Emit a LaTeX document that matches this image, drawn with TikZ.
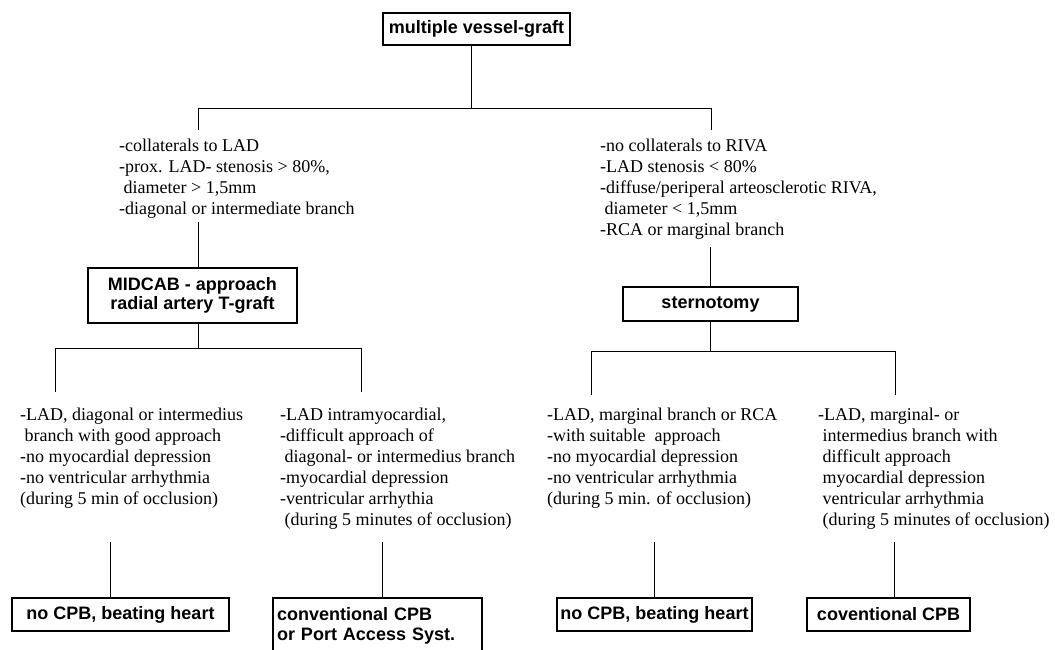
\documentclass[tikz,border=0pt]{standalone}
\usepackage{fontspec}
\setmainfont{Liberation Serif}
\setsansfont{Liberation Sans}
\usetikzlibrary{positioning, calc}

\begin{document}
\begin{tikzpicture}[x=1pt, y=-1pt,
  box/.style={draw, line width=1.1pt, inner sep=0pt, align=center,
    font=\sffamily\bfseries\fontsize{18}{19}\selectfont},
  crit/.style={inner sep=0pt, anchor=west, align=left,
    font=\fontsize{18}{21}\selectfont},
  link/.style={line width=0.9pt}]
  \useasboundingbox (0,0) rectangle (1055,649);
  \clip (0,0) rectangle (1055,649);

  % Root and first split
  \node[box, minimum width=187pt, minimum height=32pt] (root) at (476.5,29) {multiple vessel-graft};
  \coordinate (splitL) at (198,108);
  \coordinate (splitR) at (711,108);
  \draw[link] ([xshift=-5pt]root.south) -- ([xshift=-5pt]root.south |- splitL);
  \draw[link] (splitL) -- (splitR);

  % Indications
  \node[crit] (condL) at (119,178.5) {-collaterals to LAD\\
    -prox. LAD- stenosis > 80\%,\\
    \ diameter > 1,5mm\\
    -diagonal or intermediate branch};
  \node[crit] (condR) at (600,189) {-no collaterals to RIVA\\
    -LAD stenosis < 80\%\\
    -diffuse/periperal arteosclerotic RIVA,\\
    \ diameter < 1,5mm\\
    -RCA or marginal branch};
  \draw[link] (splitL) -- ++(0,22);
  \draw[link] (splitR) -- ++(0,22);

  % Approach
  \node[box, minimum width=209pt, minimum height=55pt] (midcab) at (192.5,295.5)
    {MIDCAB - approach\\radial artery T-graft};
  \node[box, minimum width=175pt, minimum height=34pt] (stern) at (710.5,304) {sternotomy};
  \draw[link] (midcab.north -| splitL) -- ++(0,-45);
  \draw[link] (stern.north) -- ++(0,-39);

  % Second split
  \coordinate (k1) at (55,348);
  \coordinate (k2) at (361,348);
  \coordinate (k3) at (591,351);
  \coordinate (k4) at (895,351);
  \draw[link] (midcab.south -| splitL) -- (k1 -| splitL);
  \draw[link] (stern.south) -- (stern.south |- k3);
  \draw[link] (k1 |- 0,392) -- (k1) -- (k2) -- (k2 |- 0,392);
  \draw[link] (k3 |- 0,395) -- (k3) -- (k4) -- (k4 |- 0,395);

  % Findings during test occlusion
  \node[crit] (c1) at (20,458) {-LAD, diagonal or intermedius\\
    \ branch with good approach\\
    -no myocardial depression\\
    -no ventricular arrhythmia\\
    (during 5 min of occlusion)};
  \node[crit] (c2) at (280,468.5) {-LAD intramyocardial,\\
    -difficult approach of\\
    \ diagonal- or intermedius branch\\
    -myocardial depression\\
    -ventricular arrhythia\\
    \ (during 5 minutes of occlusion)};
  \node[crit] (c3) at (547,458) {-LAD, marginal branch or RCA\\
    -with suitable\ \ approach\\
    -no myocardial depression\\
    -no ventricular arrhythmia\\
    (during 5 min. of occlusion)};
  \node[crit] (c4) at (818,468.5) {-LAD, marginal- or\\
    \ intermedius branch with\\
    \ difficult approach\\
    \ myocardial depression\\
    \ ventricular arrhythmia\\
    \ (during 5 minutes of occlusion)};

  % Procedures
  \node[box, minimum width=217pt, minimum height=33pt] (b1) at (120.5,614.5) {no CPB, beating heart};
  \node[box, minimum height=56pt, text width=201pt, inner xsep=4pt, align=left,
    font=\sffamily\bfseries\fontsize{18}{20}\selectfont] (b2) at (377.5,626)
    {conventional CPB\\or Port Access Syst.};
  \node[box, minimum width=195pt, minimum height=33pt] (b3) at (654.5,614.5) {no CPB, beating heart};
  \node[box, minimum width=163pt, minimum height=33pt] (b4) at (888.5,614.5) {coventional CPB};
  \draw[link] ([xshift=-10.5pt]b1.north) -- ++(0,-55);
  \draw[link] ([xshift=4.5pt]b2.north) -- ++(0,-55);
  \draw[link] (b3.north) -- ++(0,-55);
  \draw[link] ([xshift=5.5pt]b4.north) -- ++(0,-55);
\end{tikzpicture}
\end{document}
